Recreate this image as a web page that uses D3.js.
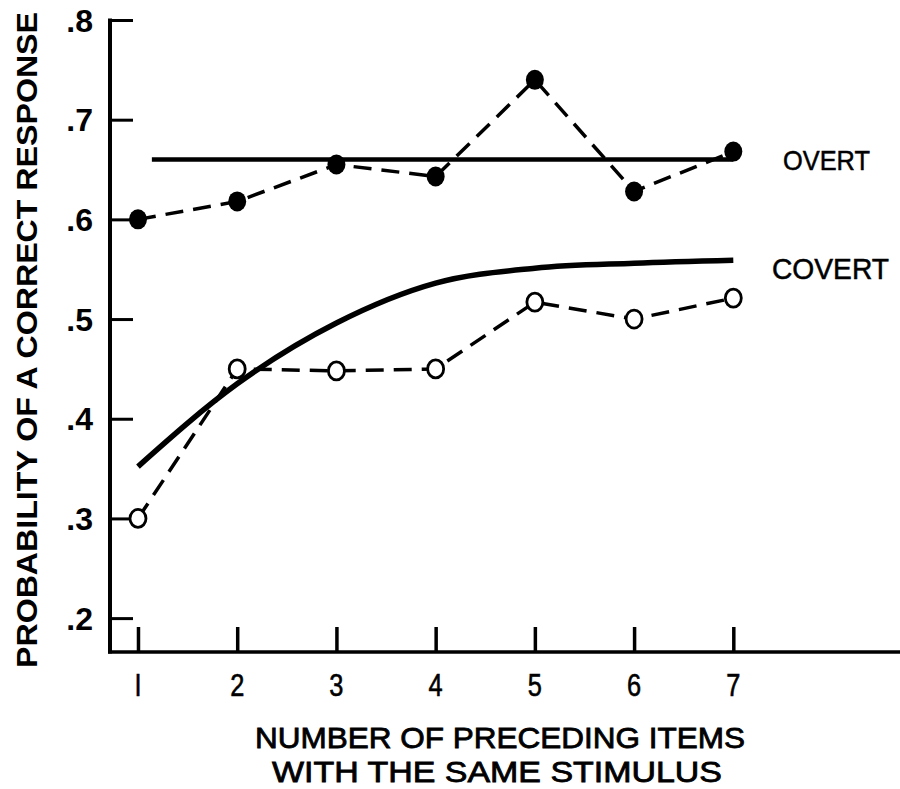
<!DOCTYPE html>
<html><head><meta charset="utf-8">
<script src="https://cdn.jsdelivr.net/npm/d3@7"></script>
<style>body{margin:0;background:#fff}</style>
</head><body>
<script>
const items = [1,2,3,4,5,6,7];
const overtObserved = [0.600,0.618,0.655,0.643,0.740,0.628,0.668];
const covertObserved = [0.300,0.450,0.448,0.450,0.517,0.500,0.521];
const overtFit = [0.66,0.66];
const overtFitX = [1.14,7];
const covertFit = [0.352,0.435,0.496,0.536,0.551,0.556,0.559];
const yTicks = [0.2,0.3,0.4,0.5,0.6,0.7,0.8];
const yTickLabels = [".2",".3",".4",".5",".6",".7",".8"];
const xTickLabels = ["I","2","3","4","5","6","7"];

const W=900,H=789;
const svg=d3.select("body").append("svg").attr("width",W).attr("height",H);
const x=d3.scaleLinear().domain([0.718,8.68]).range([110,900]);
const y=d3.scaleLinear().domain([0.166,0.8]).range([652,20]);
const sans="'Liberation Sans','Arimo',Arial,sans-serif";

// axes
const yAxis=d3.axisRight(y).tickValues(yTicks).tickSize(23).tickFormat("");
const gy=svg.append("g").attr("transform","translate(110,0)").call(yAxis);
gy.select(".domain").remove();
gy.selectAll(".tick line").attr("stroke","#000").attr("stroke-width",3);
const xAxis=d3.axisTop(x).tickValues(items).tickSize(25).tickFormat("");
const gx=svg.append("g").attr("transform","translate(0,652)").call(xAxis);
gx.select(".domain").remove();
gx.selectAll(".tick line").attr("stroke","#000").attr("stroke-width",3.5);
svg.append("line").attr("x1",110).attr("x2",110).attr("y1",y(0.8)-1.5).attr("y2",653.5).attr("stroke","#000").attr("stroke-width",4);
svg.append("line").attr("x1",108).attr("x2",900).attr("y1",652).attr("y2",652).attr("stroke","#000").attr("stroke-width",3.5);

// tick labels
svg.selectAll(".ylab").data(yTicks).enter().append("text")
  .attr("x",93).attr("y",d=>y(d)).attr("dy","0.36em").attr("text-anchor","end")
  .attr("font-family",sans).attr("font-weight","bold").attr("font-size",32)
  .text((d,i)=>yTickLabels[i]);
svg.selectAll(".xlab").data(items).enter().append("text")
  .attr("transform",d=>`translate(${x(d)},696) scale(0.82,1)`).attr("text-anchor","middle")
  .attr("font-family",sans).attr("font-size",31).attr("stroke","#000").attr("stroke-width",0.6)
  .text((d,i)=>xTickLabels[i]);

// axis titles
svg.append("text").attr("transform","translate(37,340) rotate(-90)").attr("text-anchor","middle")
  .attr("font-family",sans).attr("font-weight","bold").attr("font-size",29)
  .attr("textLength",656).attr("lengthAdjust","spacingAndGlyphs")
  .text("PROBABILITY OF A CORRECT RESPONSE");
svg.append("text").attr("x",500).attr("y",748).attr("text-anchor","middle")
  .attr("font-family",sans).attr("font-size",29).attr("stroke","#000").attr("stroke-width",0.8)
  .attr("textLength",490).attr("lengthAdjust","spacingAndGlyphs")
  .text("NUMBER OF PRECEDING ITEMS");
svg.append("text").attr("x",497).attr("y",782).attr("text-anchor","middle")
  .attr("font-family",sans).attr("font-size",29).attr("stroke","#000").attr("stroke-width",0.8)
  .attr("textLength",450).attr("lengthAdjust","spacingAndGlyphs")
  .text("WITH THE SAME STIMULUS");

// fitted lines
const line=d3.line().x(d=>x(d[0])).y(d=>y(d[1]));
svg.append("path").attr("d",line(overtFitX.map((v,i)=>[v,overtFit[i]])))
  .attr("fill","none").attr("stroke","#000").attr("stroke-width",4.5);
const curve=d3.line().x(d=>x(d[0])).y(d=>y(d[1])).curve(d3.curveMonotoneX);
svg.append("path").attr("d",curve(items.map((v,i)=>[v,covertFit[i]])))
  .attr("fill","none").attr("stroke","#000").attr("stroke-width",5.5);

// observed dashed lines
svg.append("path").attr("d",line(items.map((v,i)=>[v,overtObserved[i]])))
  .attr("fill","none").attr("stroke","#000").attr("stroke-width",3.5).attr("stroke-dasharray","18,10");
svg.append("path").attr("d",line(items.map((v,i)=>[v,covertObserved[i]])))
  .attr("fill","none").attr("stroke","#000").attr("stroke-width",3.5).attr("stroke-dasharray","18,10");

// markers
svg.selectAll(".fo").data(items).enter().append("ellipse")
  .attr("cx",d=>x(d)).attr("cy",(d,i)=>y(overtObserved[i])).attr("rx",9).attr("ry",10).attr("fill","#000");
svg.selectAll(".oc").data(items).enter().append("ellipse")
  .attr("cx",d=>x(d)).attr("cy",(d,i)=>y(covertObserved[i])).attr("rx",8).attr("ry",9)
  .attr("fill","#fff").attr("stroke","#000").attr("stroke-width",2.8);

// series labels
svg.append("text").attr("x",783).attr("y",170).attr("font-family",sans).attr("font-size",28)
  .attr("stroke","#000").attr("stroke-width",0.5).attr("textLength",87).attr("lengthAdjust","spacingAndGlyphs").text("OVERT");
svg.append("text").attr("x",772).attr("y",279).attr("font-family",sans).attr("font-size",29)
  .attr("stroke","#000").attr("stroke-width",0.5).attr("textLength",117).attr("lengthAdjust","spacingAndGlyphs").text("COVERT");
</script>
</body></html>
